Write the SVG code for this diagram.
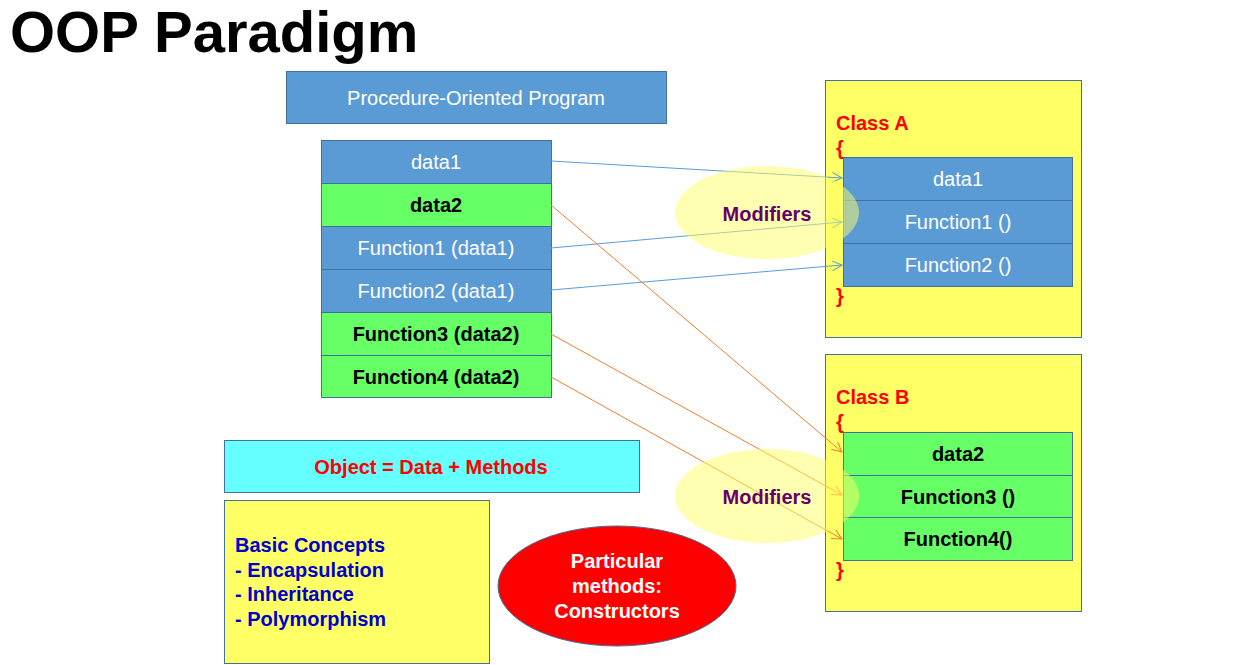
<svg xmlns="http://www.w3.org/2000/svg" width="1258" height="665" viewBox="0 0 1258 665">
<style>
text{font-family:"Liberation Sans",Arial,sans-serif;font-size:20px}
.c{text-anchor:middle}
.b{font-weight:bold}
.blue{fill:#5B9BD5;stroke:#41719C;stroke-width:1}
.green{fill:#66FF66;stroke:#41719C;stroke-width:1}
.yel{fill:#FFFF66;stroke:#41719C;stroke-width:1}
.w{fill:#FFFFFF}
.k{fill:#000000}
.red{fill:#FF0000}
.mod{fill:#FFFF66;fill-opacity:0.5;stroke:none}
.modt{fill:#660066;font-weight:bold;text-anchor:middle}
.lb{stroke:#5B9BD5;stroke-width:1;fill:none}
.lo{stroke:#ED7D31;stroke-width:1;fill:none}
</style>
<defs>
<marker id="ab" markerUnits="userSpaceOnUse" markerWidth="12" markerHeight="12" refX="10" refY="5" orient="auto"><path d="M0,0 L10,5 L0,10" fill="none" stroke="#5B9BD5" stroke-width="1"/></marker>
<marker id="ao" markerUnits="userSpaceOnUse" markerWidth="12" markerHeight="12" refX="10" refY="5" orient="auto"><path d="M0,0 L10,5 L0,10" fill="none" stroke="#ED7D31" stroke-width="1"/></marker>
</defs>
<rect width="1258" height="665" fill="#FFFFFF"/>
<g id="title"><text x="10" y="52" class="b" style="font-size:58px">OOP Paradigm</text></g>
<g id="proc-title"><rect x="286.5" y="71.5" width="380" height="52" class="blue"/><text x="476" y="105" class="c w">Procedure-Oriented Program</text></g>
<g id="proc-stack">
<rect x="321.5" y="140.5" width="230" height="43" class="blue"/><text x="436" y="169" class="c w">data1</text>
<rect x="321.5" y="183.5" width="230" height="43" class="green"/><text x="436" y="212" class="c k b">data2</text>
<rect x="321.5" y="226.5" width="230" height="43" class="blue"/><text x="436" y="255" class="c w">Function1 (data1)</text>
<rect x="321.5" y="269.5" width="230" height="43" class="blue"/><text x="436" y="298" class="c w">Function2 (data1)</text>
<rect x="321.5" y="312.5" width="230" height="43" class="green"/><text x="436" y="341" class="c k b">Function3 (data2)</text>
<rect x="321.5" y="355.5" width="230" height="42" class="green"/><text x="436" y="384" class="c k b">Function4 (data2)</text>
</g>
<g id="classA">
<rect x="825.5" y="80.5" width="256" height="257" class="yel"/>
<text x="836" y="130" class="b red">Class A</text>
<text x="836" y="155" class="b red">{</text>
<rect x="843.5" y="157.5" width="229" height="43" class="blue"/><text x="958" y="186" class="c w">data1</text>
<rect x="843.5" y="200.5" width="229" height="43" class="blue"/><text x="958" y="229" class="c w">Function1 ()</text>
<rect x="843.5" y="243.5" width="229" height="43" class="blue"/><text x="958" y="272" class="c w">Function2 ()</text>
<text x="836" y="303" class="b red">}</text>
</g>
<g id="classB">
<rect x="825.5" y="354.5" width="256" height="257" class="yel"/>
<text x="836" y="404" class="b red">Class B</text>
<text x="836" y="429" class="b red">{</text>
<rect x="843.5" y="432.5" width="229" height="43" class="green"/><text x="958" y="461" class="c k b">data2</text>
<rect x="843.5" y="475.5" width="229" height="42" class="green"/><text x="958" y="504" class="c k b">Function3 ()</text>
<rect x="843.5" y="517.5" width="229" height="43" class="green"/><text x="958" y="546" class="c k b">Function4()</text>
<text x="836" y="577" class="b red">}</text>
</g>
<g id="connectors">
<line x1="551" y1="161" x2="842" y2="178" class="lb" marker-end="url(#ab)"/>
<line x1="551" y1="248" x2="842" y2="222" class="lb" marker-end="url(#ab)"/>
<line x1="551" y1="290" x2="842" y2="265" class="lb" marker-end="url(#ab)"/>
<line x1="551" y1="205" x2="842" y2="452" class="lo" marker-end="url(#ao)"/>
<line x1="551" y1="334" x2="842" y2="495" class="lo" marker-end="url(#ao)"/>
<line x1="551" y1="377" x2="842" y2="539" class="lo" marker-end="url(#ao)"/>
</g>
<g id="modifiers1"><ellipse cx="767" cy="212.5" rx="92" ry="46.5" class="mod"/><text x="767" y="221" class="modt">Modifiers</text></g>
<g id="modifiers2"><ellipse cx="767" cy="496" rx="92" ry="47" class="mod"/><text x="767" y="504" class="modt">Modifiers</text></g>
<g id="object"><rect x="224.5" y="440.5" width="415" height="52" fill="#66FFFF" stroke="#41719C"/><text x="431" y="474" class="c b red">Object = Data + Methods</text></g>
<g id="concepts"><rect x="224.5" y="500.5" width="265" height="163" class="yel"/>
<text x="235" y="552" class="b" fill="#0000CC">Basic Concepts</text>
<text x="235" y="577" class="b" fill="#0000CC">- Encapsulation</text>
<text x="235" y="601" class="b" fill="#0000CC">- Inheritance</text>
<text x="235" y="626" class="b" fill="#0000CC">- Polymorphism</text>
</g>
<g id="constructors"><ellipse cx="617" cy="586" rx="119" ry="60" fill="#FF0000" stroke="#41719C" stroke-width="1"/>
<text x="617" y="568" class="c b w">Particular</text>
<text x="617" y="593" class="c b w">methods:</text>
<text x="617" y="618" class="c b w">Constructors</text>
</g>
</svg>
